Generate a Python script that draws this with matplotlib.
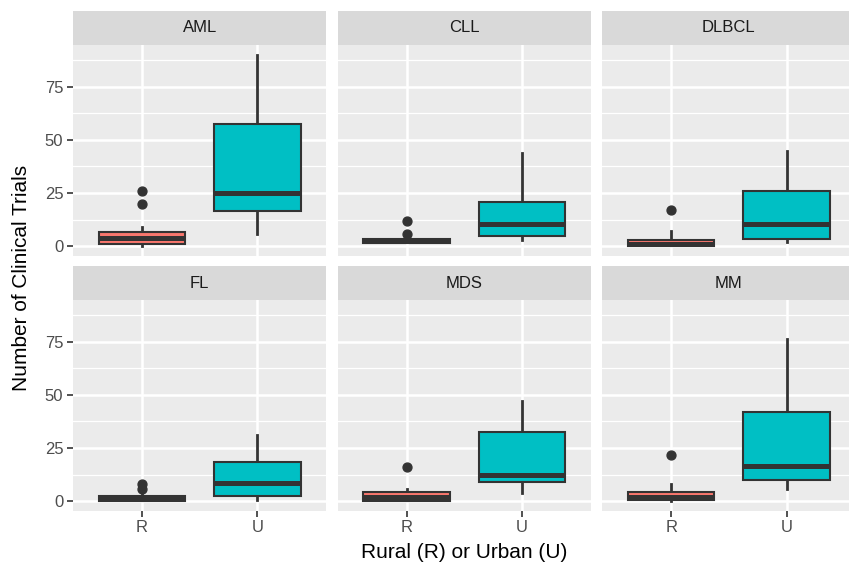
import matplotlib
matplotlib.use("Agg")
import matplotlib.pyplot as plt

plt.rcParams['font.family'] = ['Liberation Sans', 'DejaVu Sans']

groups = ["AML", "CLL", "DLBCL", "FL", "MDS", "MM"]
categories = ["R", "U"]

# Rural boxes
q1_r = [0.9, 1.7, 0.0, 0.0, 0.0, 0.5]
med_r = [3.8, 2.7, 1.0, 1.0, 2.0, 2.0]
q3_r = [6.7, 3.6, 3.2, 2.5, 4.3, 4.4]
whislo_r = [0.0, 1.4, 0.0, 0.0, 0.0, 0.0]
whishi_r = [9.0, 4.5, 7.0, 3.5, 6.0, 8.0]
fliers_r = [[20, 26], [6, 12], [17], [6, 8], [16], [22]]

# Urban boxes
q1_u = [16.4, 4.8, 3.3, 2.7, 9.0, 10.2]
med_u = [25.2, 10.6, 10.6, 8.8, 12.5, 16.4]
q3_u = [57.5, 20.8, 25.8, 18.6, 32.5, 41.9]
whislo_u = [6.0, 3.0, 2.2, 0.8, 4.0, 5.8]
whishi_u = [90.0, 44.0, 45.0, 31.0, 47.0, 76.0]
fliers_u = [[], [], [], [], [], []]

yticks = [0, 25, 50, 75]
fill_colors = ["#F8766D", "#00BFC4"]

W, H = 849, 566
fig = plt.figure(figsize=(W / 100, H / 100), dpi=100)

panel_w = 253.7
col_left = [72.8, 337.5, 602.0]
row_top = [45.0, 300.0]
panel_h = 211.0
strip_h = 34.0

dark = "#333333"
for i, g in enumerate(groups):
    r, c = divmod(i, 3)
    left = col_left[c]
    top = row_top[r]
    ax = fig.add_axes([left / W, 1 - (top + panel_h) / H, panel_w / W, panel_h / H])
    ax.set_facecolor("#EBEBEB")
    for s in ax.spines.values():
        s.set_visible(False)
    ax.set_xlim(0.4, 2.6)
    ax.set_ylim(-4.5, 94.5)
    ax.set_yticks(yticks)
    ax.set_yticks([12.5, 37.5, 62.5, 87.5], minor=True)
    ax.set_xticks([1, 2])
    ax.grid(True, which="major", color="white", lw=1.8)
    ax.grid(True, which="minor", axis="y", color="white", lw=0.9)
    ax.set_axisbelow(True)
    ax.tick_params(which="minor", length=0)
    ax.tick_params(which="major", length=4.3, width=1.2, color=dark,
                   labelsize=12, labelcolor="#4D4D4D", pad=2.5)
    if c == 0:
        ax.set_yticklabels([str(t) for t in yticks])
    else:
        ax.tick_params(axis="y", length=0, labelleft=False)
    if r == 1:
        ax.set_xticklabels(categories)
    else:
        ax.tick_params(axis="x", length=0, labelbottom=False)

    stats = [
        dict(q1=q1_r[i], med=med_r[i], q3=q3_r[i], whislo=whislo_r[i],
             whishi=whishi_r[i], fliers=fliers_r[i]),
        dict(q1=q1_u[i], med=med_u[i], q3=q3_u[i], whislo=whislo_u[i],
             whishi=whishi_u[i], fliers=fliers_u[i]),
    ]
    bp = ax.bxp(stats, positions=[1, 2], widths=0.75, patch_artist=True,
                showcaps=False, manage_ticks=False,
                boxprops=dict(edgecolor=dark, linewidth=1.5),
                whiskerprops=dict(color=dark, linewidth=2.0),
                medianprops=dict(color=dark, linewidth=3.6, solid_capstyle="butt"),
                flierprops=dict(marker="o", markerfacecolor=dark, markeredgecolor=dark,
                                markersize=6.4, linestyle="none"))
    for patch, fc in zip(bp["boxes"], fill_colors):
        patch.set_facecolor(fc)
        patch.set_zorder(2)
    for w in bp["whiskers"]:
        w.set_zorder(1.5)
    for m in bp["medians"]:
        m.set_zorder(3)

    sax = fig.add_axes([left / W, 1 - top / H, panel_w / W, strip_h / H])
    sax.set_facecolor("#D9D9D9")
    sax.set_xticks([])
    sax.set_yticks([])
    for s in sax.spines.values():
        s.set_visible(False)
    sax.text(0.5, 0.5, g, ha="center", va="center", fontsize=12,
             color="#1A1A1A", transform=sax.transAxes)

fig.text(22 / W, 1 - 278 / H, "Number of Clinical Trials", rotation=90,
         ha="center", va="center", fontsize=15, color="black")
fig.text(464.5 / W, 1 - 553 / H, "Rural (R) or Urban (U)",
         ha="center", va="center", fontsize=15, color="black")

fig.savefig("out.png", dpi=100, facecolor="white")
